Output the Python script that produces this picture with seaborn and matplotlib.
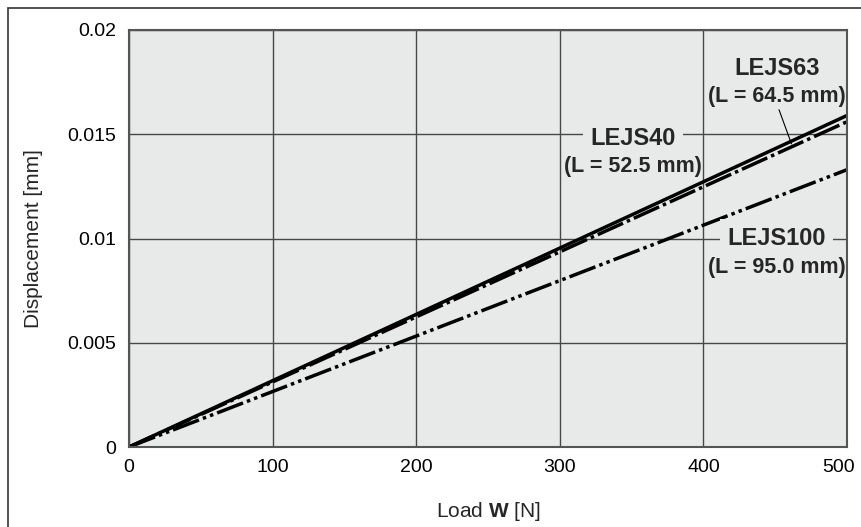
import numpy as np
import pandas as pd
import seaborn as sns
from matplotlib import pyplot as plt
from matplotlib.patches import Rectangle
from matplotlib.transforms import ScaledTranslation

# load [N] and displacement [mm] (straight lines from origin)
load = [0, 500]
lejs40 = [0, 0.0159]
lejs63 = [0, 0.0156]
lejs100 = [0, 0.0133]

names = ["LEJS40", "LEJS63", "LEJS100"]
subs = ["(L = 52.5 mm)", "(L = 64.5 mm)", "(L = 95.0 mm)"]
xticks = [0, 100, 200, 300, 400, 500]
yticks = [0, 0.005, 0.01, 0.015, 0.02]
ytick_labels = ["0", "0.005", "0.01", "0.015", "0.02"]

bg = "#e8e9e9"
sns.set_theme(style="whitegrid")
plt.rcParams["font.family"] = ["Liberation Sans", "DejaVu Sans"]
plt.rcParams["mathtext.fontset"] = "custom"
plt.rcParams["mathtext.rm"] = "Liberation Sans"
plt.rcParams["mathtext.bf"] = "Liberation Sans:bold"

fig = plt.figure(figsize=(8.61, 5.27), dpi=100)
ax = fig.add_axes([129/861, 1-447/527, (847-129)/861, (447-30)/527])
ax.set_facecolor(bg)

df = pd.DataFrame({"load": load, "LEJS40": lejs40, "LEJS63": lejs63, "LEJS100": lejs100})

styles = {
    "LEJS40": "-",
    "LEJS63": (0, (8, 1.2, 1, 1.2)),
    "LEJS100": (0, (8, 1.2, 1, 1.2, 1, 1.2)),
}
for n in names:
    sns.lineplot(data=df, x="load", y=n, ax=ax, color="black", lw=2.5)
    ax.lines[-1].set_linestyle(styles[n])
    ax.lines[-1].set_solid_capstyle("butt")
    ax.lines[-1].set_dash_capstyle("butt")

ax.set_xlim(0, 500)
ax.set_ylim(0, 0.02)
ax.set_xticks(xticks)
ax.set_yticks(yticks)
ax.set_yticklabels(ytick_labels)
ax.tick_params(length=0, labelsize=14, colors="black")
ax.tick_params(axis="x", pad=9)
ax.tick_params(axis="y", pad=9)
ax.grid(True, color="#474747", lw=1.0)
for s in ax.spines.values():
    s.set_color("#555555")
    s.set_linewidth(1.5)

# last x tick label sits a little inside the figure
lbl = ax.get_xticklabels()[-1]
lbl.set_transform(lbl.get_transform() + ScaledTranslation(-0.08, 0, fig.dpi_scale_trans))

ax.set_xlabel(r"Load $\mathbf{W}$ [N]", fontsize=15, labelpad=17)
ax.set_ylabel("Displacement [mm]", fontsize=15, labelpad=18)

# series labels
pos = {"LEJS40": (351, 0.0148, 0.01343),
       "LEJS63": (451, 0.01813, 0.01679),
       "LEJS100": (451, 0.01002, 0.00863)}
for n, sub in zip(names, subs):
    x, y1, y2 = pos[n]
    ax.text(x, y1, n, ha="center", va="center", fontsize=17, fontweight="bold",
            bbox=dict(boxstyle="square,pad=0.3", fc=bg, ec="none"), zorder=4)
    ax.text(x, y2, sub, ha="center", va="center", fontsize=15.5, fontweight="bold", zorder=4)

# leader from LEJS63 label to its line
xa = 462
ax.annotate("", xy=(xa, np.interp(xa, load, lejs63)), xytext=(452, 0.0163),
            arrowprops=dict(arrowstyle="-", color="black", lw=0.8), zorder=4)

# outer frame
fig.patches.append(Rectangle((8/861, -0.1), 1.2, 1 - 8/527 + 0.1, transform=fig.transFigure,
                             fill=False, ec="#333333", lw=1.2, zorder=0))

fig.savefig("out.png", dpi=100)
